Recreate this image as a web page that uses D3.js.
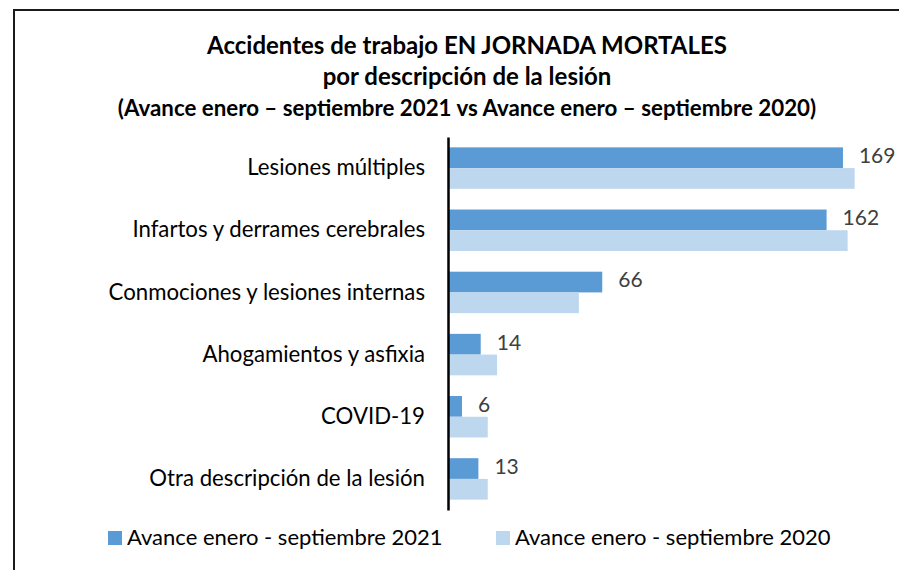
<!DOCTYPE html>
<html>
<head>
<meta charset="utf-8">
<script src="https://cdn.jsdelivr.net/npm/d3@7/dist/d3.min.js"></script>
<style>
  html, body { margin: 0; padding: 0; background: #ffffff; }
  svg { display: block; }
</style>
</head>
<body>
<svg id="chart" width="899" height="571"></svg>
<script>
const categories = [
  "Lesiones múltiples",
  "Infartos y derrames cerebrales",
  "Conmociones y lesiones internas",
  "Ahogamientos y asfixia",
  "COVID-19",
  "Otra descripción de la lesión"
];
const series2021 = [169, 162, 66, 14, 6, 13];
const series2020 = [174, 171, 56, 21, 17, 17];
const seriesNames = ["Avance enero - septiembre 2021", "Avance enero - septiembre 2020"];
const titleLines = [
  "Accidentes de trabajo EN JORNADA MORTALES",
  "por descripción de la lesión",
  "(Avance enero – septiembre 2021 vs Avance enero – septiembre 2020)"
];

const colors = ["#5B9BD5", "#BDD7EE"];
const FONT = "Lato, 'Open Sans', sans-serif";

const svg = d3.select("#chart");

// frame
svg.append("path")
  .attr("d", "M14,570 L14,10 L899,10")
  .attr("fill", "none")
  .attr("stroke", "#1a1a1a")
  .attr("stroke-width", 2);

// title
const titleY = [48, 79, 110];
const titleSize = [24, 24, 22.3];
titleLines.forEach((t, i) => {
  svg.append("text")
    .attr("x", 467)
    .attr("y", titleY[i])
    .attr("text-anchor", "middle")
    .attr("dominant-baseline", "middle")
    .attr("font-family", FONT)
    .attr("font-weight", "bold")
    .attr("font-size", titleSize[i])
    .attr("fill", "#000")
    .text(t);
});

const x = d3.scaleLinear().domain([0, 180]).range([448, 448 + 2.337 * 180]);
const y = d3.scaleBand().domain(categories).range([137, 510]).paddingInner(1/3).paddingOuter(1/6);
const ySub = d3.scaleBand().domain([0, 1]).range([0, y.bandwidth()]);

const data = categories.map((c, i) => ({ c, v: [series2021[i], series2020[i]] }));

const g = svg.append("g");
data.forEach(d => {
  [0, 1].forEach(s => {
    g.append("rect")
      .attr("x", x(0))
      .attr("y", y(d.c) + ySub(s))
      .attr("width", x(d.v[s]) - x(0))
      .attr("height", ySub.bandwidth())
      .attr("fill", colors[s]);
  });
  g.append("text")
    .attr("x", x(d.v[0]) + 16)
    .attr("y", y(d.c) + ySub(0) + ySub.bandwidth() / 2)
    .attr("dominant-baseline", "middle")
    .attr("font-family", FONT)
    .attr("font-size", 21)
    .attr("fill", "#404040")
    .text(d.v[0]);
});

// axis
const yAxis = d3.axisLeft(y).tickSize(0).tickPadding(23);
const ax = svg.append("g").attr("transform", `translate(${x(0)},0)`).call(yAxis);
ax.select(".domain").attr("stroke", "#000").attr("stroke-width", 2.5);
ax.selectAll("text")
  .attr("font-family", FONT)
  .attr("font-size", 22.2)
  .attr("fill", "#000");

// legend
const legX = [108, 496];
seriesNames.forEach((n, i) => {
  svg.append("rect")
    .attr("x", legX[i]).attr("y", 531)
    .attr("width", 14).attr("height", 14)
    .attr("fill", colors[i]);
  svg.append("text")
    .attr("x", legX[i] + 19).attr("y", 539)
    .attr("dominant-baseline", "middle")
    .attr("font-family", FONT)
    .attr("font-size", 22)
    .attr("fill", "#000")
    .text(n);
});
</script>
</body>
</html>
